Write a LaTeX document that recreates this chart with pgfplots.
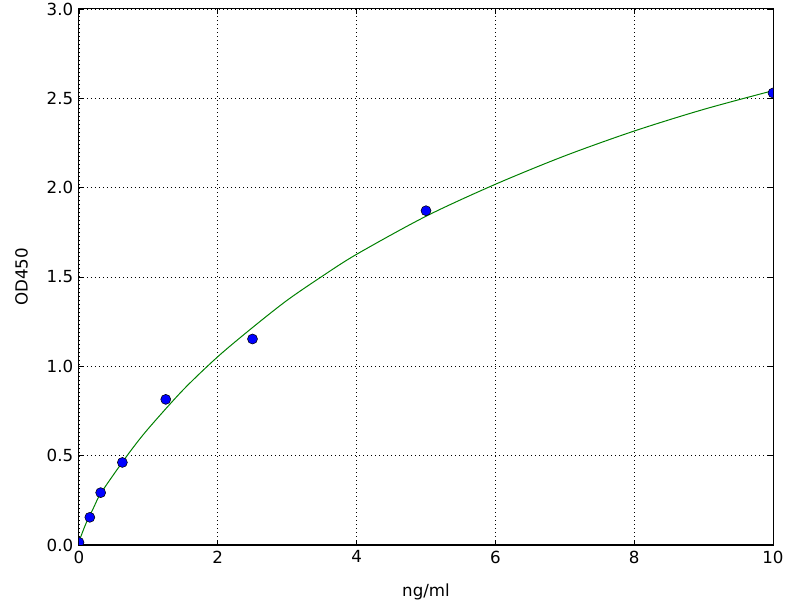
\documentclass[border=0pt]{standalone}
\usepackage{fontspec}
\setmainfont{DejaVu Sans}
\usepackage{pgfplots}
\pgfplotsset{compat=1.18}
\definecolor{mplgreen}{rgb}{0,0.5,0}
\definecolor{mplblue}{rgb}{0,0,1}
\begin{document}
\fontsize{12.5pt}{15pt}\selectfont
\begin{tikzpicture}
\path[use as bounding box] (-59.25pt,-41.25pt) rectangle (540.75pt,408.75pt);
\begin{axis}[
  at={(0pt,0pt)}, anchor=south west,
  scale only axis,
  width=520.5pt, height=402pt,
  xmin=0, xmax=10, ymin=0, ymax=3,
  xtick={0,2,4,6,8,10},
  ytick={0,0.5,1,1.5,2,2.5,3},
  yticklabel style={/pgf/number format/.cd,fixed,fixed zerofill,precision=1},
  /pgf/number format/assume math mode=true,
  tick align=inside,
  major tick length=4pt,
  tick style={black, line width=0.6pt},
  axis line style={black, line width=0.75pt},
  grid=major,
  major grid style={black, line width=0.6pt, dash pattern=on 0.75pt off 2.25pt},
  xlabel={ng/ml},
  ylabel={OD450},
  xlabel style={font=\fontsize{12.5pt}{15pt}\selectfont, yshift=-7pt},
  ylabel style={font=\fontsize{12.5pt}{15pt}\selectfont, yshift=5.5pt},
  ticklabel style={font=\fontsize{12.5pt}{15pt}\selectfont},
  clip marker paths=true,
]
\addplot[mplgreen, line width=0.75pt, smooth, no markers] coordinates {
  (0,0.02) (0.1,0.12) (0.2,0.20) (0.3,0.28) (0.5,0.395) (0.75,0.53)
  (1,0.652) (1.5,0.868) (2,1.054) (2.5,1.217) (3,1.37) (3.5,1.503)
  (4,1.627) (5,1.84) (6,2.019) (7,2.178) (8,2.317) (9,2.438) (10,2.543)
};
\addplot[only marks, mark=*, mark size=3.75pt,
  mark options={fill=mplblue, draw=black, line width=0.4pt}] coordinates {
  (0,0.015) (0.156,0.155) (0.3125,0.293) (0.625,0.462) (1.25,0.815)
  (2.5,1.153) (5,1.871) (10,2.53)
};
\end{axis}
\end{tikzpicture}
\end{document}
